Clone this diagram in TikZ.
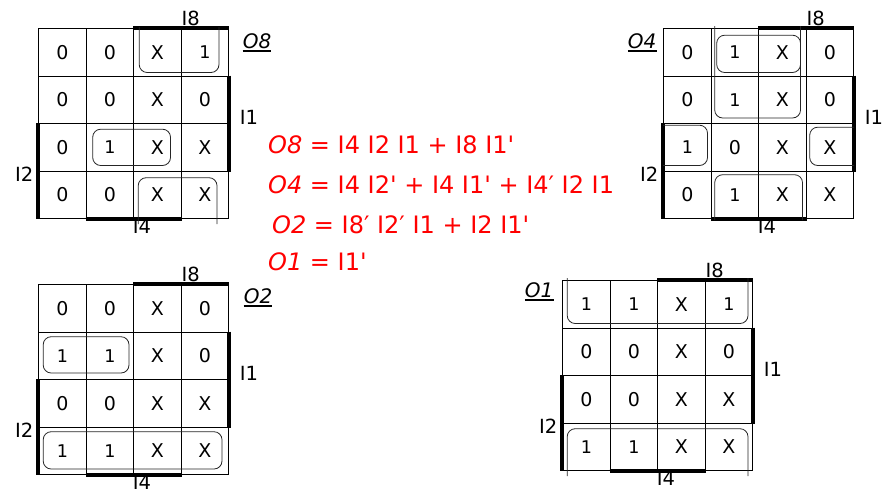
\documentclass[tikz,border=0pt]{standalone}
\usepackage{fontspec}
\setmainfont{DejaVu Sans}
\usetikzlibrary{matrix,positioning}

\newcommand{\kone}{{\fontsize{17.5}{17.5}\selectfont 1}}
\newcommand{\inv}{\textquotesingle}

\tikzset{
  kmap/.style={matrix of nodes, anchor=north west, inner sep=0pt,
    column sep=-0.8pt, row sep=-0.8pt,
    nodes={draw, line width=0.8pt, minimum size=47.5pt, inner sep=0pt,
      anchor=center, font=\fontsize{19}{19}\selectfont}},
  varbar/.style={line width=3.5pt},
  implicant/.style={draw=black!85, line width=0.8pt, rounded corners=8pt},
  varlabel/.style={font=\fontsize{19.5}{19.5}\selectfont, inner sep=0pt},
  maptitle/.style={font=\fontsize{20}{20}\selectfont\itshape, inner sep=0pt, anchor=base},
  eqn/.style={text=red, font=\fontsize{24}{24}\selectfont, anchor=base west, inner sep=0pt}
}

% thick bars and input names round a 4x4 map
\newcommand{\kbars}[1]{%
  \draw[varbar] (#1-1-3.north west) -- (#1-1-4.north east);
  \draw[varbar] (#1-2-4.north east) -- (#1-3-4.south east);
  \draw[varbar] (#1-3-1.north west) -- (#1-4-1.south west);
  \draw[varbar] (#1-4-2.south west) -- (#1-4-3.south east);
  \node[varlabel] (#1-i8) at ([shift={(10pt,10pt)}]#1-1-4.north west) {I8};
  \node[varlabel] (#1-i1) at ([shift={(20pt,7pt)}]#1-2-4.south east) {I1};
  \node[varlabel] (#1-i2) at ([shift={(-14pt,-3pt)}]#1-3-1.south west) {I2};
  \node[varlabel] (#1-i4) at ([shift={(8pt,-7pt)}]#1-4-2.south east) {I4};
}
\newcommand{\ktitle}[3]{%
  \node[maptitle] (#1-name) at (#2) {#3};
  \draw[line width=1.5pt] ([yshift=-2.5pt]#1-name.south west) -- ([yshift=-2.5pt]#1-name.south east);
}

\begin{document}
\begin{tikzpicture}[x=1pt, y=-1pt]
  \useasboundingbox (0,0) rectangle (882,490);

  \matrix[kmap] (o8) at (38,28) {
    0 & 0 & X & \kone \\
    0 & 0 & X & 0 \\
    0 & \kone & X & X \\
    0 & 0 & X & X \\
  };
  \matrix[kmap] (o4) at (663,28) {
    0 & \kone & X & 0 \\
    0 & \kone & X & 0 \\
    \kone & 0 & X & X \\
    0 & \kone & X & X \\
  };
  \matrix[kmap] (o2) at (38,284) {
    0 & 0 & X & 0 \\
    \kone & \kone & X & 0 \\
    0 & 0 & X & X \\
    \kone & \kone & X & X \\
  };
  \matrix[kmap] (o1) at (562,280) {
    \kone & \kone & X & \kone \\
    0 & 0 & X & 0 \\
    0 & 0 & X & X \\
    \kone & \kone & X & X \\
  };

  \kbars{o8}
  \kbars{o4}
  \kbars{o2}
  \kbars{o1}

  \ktitle{o8}{[shift={(28pt,-20pt)}]o8-1-4.north east}{O8}
  \ktitle{o4}{[shift={(-21pt,-20pt)}]o4-1-1.north west}{O4}
  \ktitle{o2}{[shift={(29pt,-19pt)}]o2-1-4.north east}{O2}
  \ktitle{o1}{[shift={(-23pt,-17pt)}]o1-1-1.north west}{O1}

  % O8 groups
  \draw[implicant] ([shift={(6pt,1pt)}]o8-1-3.north west) |- ([shift={(-10pt,4pt)}]o8-1-4.south east) -- ([shift={(-10pt,1pt)}]o8-1-4.north east);
  \draw[implicant] ([shift={(5pt,-5pt)}]o8-4-3.south west) |- ([shift={(-12pt,-7pt)}]o8-4-4.north east) -- ([shift={(-12pt,-5pt)}]o8-4-4.south east);
  \draw[implicant] ([shift={(7pt,-6pt)}]o8-3-2.north west) rectangle ([shift={(-11pt,6pt)}]o8-3-3.south east);

  % O4 groups
  \draw[implicant] ([shift={(6pt,-7pt)}]o4-1-2.north west) rectangle ([shift={(-6pt,4pt)}]o4-1-3.south east);
  \draw[implicant] ([shift={(4pt,2pt)}]o4-1-2.north west) |- ([shift={(-6pt,6pt)}]o4-2-3.south east) -- ([shift={(-6pt,2pt)}]o4-1-3.north east);
  \draw[implicant] ([yshift=-2pt]o4-3-1.north west) -| ([shift={(-4pt,6pt)}]o4-3-1.south east) -- ([yshift=6pt]o4-3-1.south west);
  \draw[implicant] ([yshift=-4pt]o4-3-4.north east) -| ([shift={(4pt,6pt)}]o4-3-4.south west) -- ([yshift=6pt]o4-3-4.south east);
  \draw[implicant] ([shift={(4pt,-1pt)}]o4-4-2.south west) |- ([shift={(-4pt,-4pt)}]o4-4-3.north east) -- ([shift={(-4pt,-1pt)}]o4-4-3.south east);

  % O2 groups
  \draw[implicant] ([shift={(5pt,-5pt)}]o2-2-1.north west) rectangle ([shift={(-5pt,7pt)}]o2-2-2.south east);
  \draw[implicant] ([shift={(5pt,-5pt)}]o2-4-1.north west) rectangle ([shift={(-7pt,6pt)}]o2-4-4.south east);

  % O1 groups
  \draw[implicant] ([shift={(5pt,2pt)}]o1-1-1.north west) |- ([shift={(-5pt,5pt)}]o1-1-4.south east) -- ([shift={(-5pt,2pt)}]o1-1-4.north east);
  \draw[implicant] ([shift={(5pt,-5pt)}]o1-4-1.south west) |- ([shift={(-5pt,-6pt)}]o1-4-4.north east) -- ([shift={(-5pt,-5pt)}]o1-4-4.south east);

  \node[eqn] (eq-o8) at (268,153) {\textit{O8} = I4 I2 I1 + I8 I1\inv};
  \node[eqn] (eq-o4) at (268,193) {\textit{O4} = I4 I2\inv{} + I4 I1\inv{} + I4′ I2 I1};
  \node[eqn] (eq-o2) at (272,233) {\textit{O2} = I8′ I2′ I1 + I2 I1\inv};
  \node[eqn] (eq-o1) at (268,270) {\textit{O1} = I1\inv};
\end{tikzpicture}
\end{document}
